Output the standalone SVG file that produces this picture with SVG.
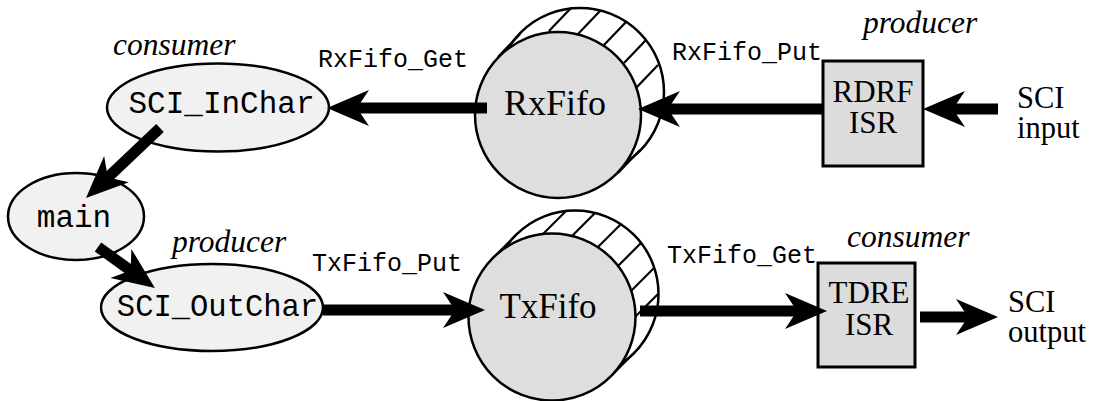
<svg xmlns="http://www.w3.org/2000/svg" width="1095" height="401" viewBox="0 0 1095 401">
  <style>
    .serif { font-family: "Liberation Serif", "Times New Roman", serif; fill: #000; }
    .it { font-style: italic; font-size: 31.5px; }
    .mono { font-family: "Liberation Mono", "Courier New", monospace; fill: #000; }
    .lbl { font-size: 25px; }
    .nodetxt { font-size: 31px; }
    .ell { fill: #f1f1f1; stroke: #000; stroke-width: 2.5; }
    .box { fill: #dcdcdc; stroke: #000; stroke-width: 3; }
    .front { fill: #dedede; stroke: #000; stroke-width: 2.5; }
    .back { fill: #fff; stroke: #000; stroke-width: 2.5; }
    .hatch { stroke: #000; stroke-width: 2.2; fill: none; }
    .flow { stroke: #000; stroke-width: 11; fill: none; marker-end: url(#head); }
  </style>
  <defs>
    <!-- barbed arrowhead: notch at x=12 sits on the end of the shaft -->
    <marker id="head" markerUnits="userSpaceOnUse" viewBox="0 -20 44 40" markerWidth="44" markerHeight="40" refX="12" refY="0" orient="auto">
      <path d="M12,0 L0,-18 L42,0 L0,18 Z" fill="#000"/>
    </marker>
  </defs>

  <rect width="1095" height="401" fill="#fff"/>

  <!-- receive FIFO: hatched cylinder seen end-on -->
  <g id="rxfifo">
    <circle class="back" cx="580" cy="92" r="84"/>
    <line class="hatch" x1="498" y1="57" x2="520" y2="34"/>
    <line class="hatch" x1="618" y1="173" x2="640" y2="150"/>
    <line class="hatch" x1="549" y1="31" x2="571" y2="8"/>
    <line class="hatch" x1="578" y1="34" x2="600" y2="11"/>
    <line class="hatch" x1="604" y1="45" x2="626" y2="22"/>
    <line class="hatch" x1="624" y1="63" x2="646" y2="40"/>
    <line class="hatch" x1="636" y1="88" x2="658" y2="65"/>
    <circle class="front" cx="558" cy="115" r="83"/>
    <text class="serif" x="555" y="115" font-size="36" text-anchor="middle">RxFifo</text>
  </g>

  <!-- transmit FIFO -->
  <g id="txfifo">
    <circle class="back" cx="575" cy="294" r="83.5"/>
    <line class="hatch" x1="492" y1="259" x2="515" y2="236"/>
    <line class="hatch" x1="612" y1="375" x2="635" y2="352"/>
    <line class="hatch" x1="543" y1="234" x2="566" y2="211"/>
    <line class="hatch" x1="572" y1="236" x2="595" y2="213"/>
    <line class="hatch" x1="598" y1="247" x2="621" y2="224"/>
    <line class="hatch" x1="618" y1="266" x2="641" y2="243"/>
    <line class="hatch" x1="631" y1="291" x2="654" y2="268"/>
    <line class="hatch" x1="635" y1="317" x2="658" y2="294"/>
    <circle class="front" cx="552" cy="317" r="83.5"/>
    <text class="serif" x="548" y="318" font-size="35" text-anchor="middle">TxFifo</text>
  </g>

  <g id="sci_inchar">
    <ellipse class="ell" cx="218" cy="107.5" rx="111" ry="44"/>
    <text class="mono nodetxt" x="221.5" y="113" text-anchor="middle">SCI_InChar</text>
    <text class="serif it" x="113" y="55">consumer</text>
  </g>

  <g id="main">
    <ellipse class="ell" cx="76" cy="216.5" rx="68" ry="43.5"/>
    <text class="mono nodetxt" x="74" y="227" text-anchor="middle">main</text>
  </g>

  <g id="sci_outchar">
    <ellipse class="ell" cx="212" cy="307.5" rx="111" ry="43.5"/>
    <text class="mono" x="217.5" y="316" font-size="30.5" text-anchor="middle">SCI_OutChar</text>
    <text class="serif it" x="172" y="252">producer</text>
  </g>

  <g id="rdrf_isr">
    <rect class="box" x="823" y="61" width="100" height="105"/>
    <text class="serif" x="873" y="102" font-size="31" text-anchor="middle">RDRF</text>
    <text class="serif" x="873" y="133" font-size="31" text-anchor="middle">ISR</text>
    <text class="serif it" x="863" y="33">producer</text>
  </g>

  <g id="tdre_isr">
    <rect class="box" x="818" y="263" width="97" height="104"/>
    <text class="serif" x="869" y="303" font-size="31" text-anchor="middle">TDRE</text>
    <text class="serif" x="869" y="335" font-size="31" text-anchor="middle">ISR</text>
    <text class="serif it" x="847" y="247">consumer</text>
  </g>

  <g id="sci_input">
    <text class="serif" x="1017" y="108" font-size="30.5">SCI</text>
    <text class="serif" x="1017" y="138" font-size="30.5">input</text>
  </g>

  <g id="sci_output">
    <text class="serif" x="1008" y="312" font-size="30.5">SCI</text>
    <text class="serif" x="1008" y="342" font-size="30.5">output</text>
  </g>

  <!-- data flow between the nodes -->
  <g id="connectors">
    <line class="flow" x1="487" y1="108" x2="357" y2="108"/>
    <line class="flow" x1="823" y1="109" x2="668" y2="109"/>
    <line class="flow" x1="998" y1="109" x2="953" y2="109"/>
    <line class="flow" x1="160" y1="128" x2="107.8" y2="177.4"/>
    <line class="flow" x1="98" y1="247" x2="130.6" y2="270.5"/>
    <line class="flow" x1="323" y1="310" x2="455" y2="310"/>
    <line class="flow" x1="640" y1="311" x2="797" y2="311"/>
    <line class="flow" x1="920" y1="317" x2="968" y2="317"/>
    <text class="mono lbl" x="318" y="67">RxFifo_Get</text>
    <text class="mono lbl" x="672" y="60">RxFifo_Put</text>
    <text class="mono lbl" x="312" y="271">TxFifo_Put</text>
    <text class="mono lbl" x="667" y="263">TxFifo_Get</text>
  </g>
</svg>
